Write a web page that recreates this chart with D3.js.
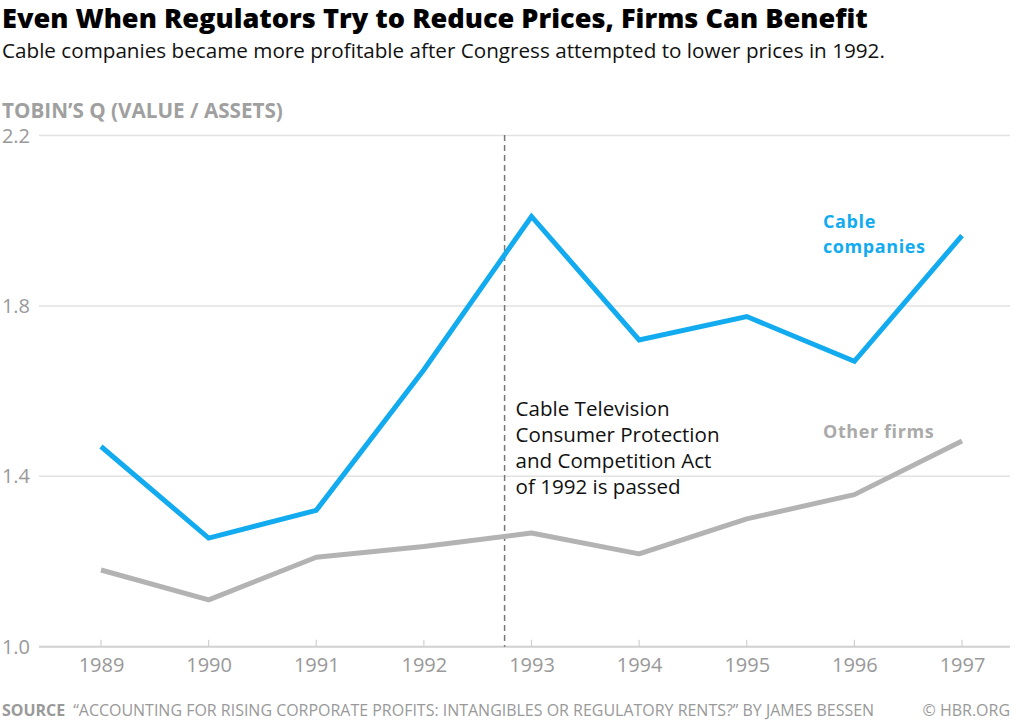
<!DOCTYPE html>
<html><head><meta charset="utf-8">
<script src="https://cdn.jsdelivr.net/npm/d3@7"></script>
<style>body{margin:0;background:#fff;} svg{display:block;}</style>
</head><body>
<script>
const years = [1989,1990,1991,1992,1993,1994,1995,1996,1997];
const cable = [1.47,1.255,1.32,1.65,2.01,1.72,1.775,1.67,1.965];
const other = [1.18,1.11,1.21,1.235,1.267,1.218,1.30,1.357,1.483];
const yTicks = [1.0,1.4,1.8,2.2];
const actYear = 1992.75;
const actLines = ["Cable Television","Consumer Protection","and Competition Act","of 1992 is passed"];
const cableLabel = ["Cable","companies"];

const W=1024,H=722;
const svg=d3.select("body").append("svg").attr("width",W).attr("height",H);
const x=d3.scaleLinear().domain([1989,1997]).range([101,962]);
const y=d3.scaleLinear().domain([1.0,2.2]).range([646.7,135.5]);
const font="'Open Sans', sans-serif";

function fit(sel,target){const n=sel.node();const w=n.getComputedTextLength();const fs=+sel.attr("font-size");sel.attr("font-size",(fs*target/w).toFixed(2));}

const t=svg.append("text").attr("x",2).attr("y",28).attr("font-family",font).attr("font-weight",800)
 .attr("font-size",25).attr("fill","#000").text("Even When Regulators Try to Reduce Prices, Firms Can Benefit");
fit(t,866);
const st=svg.append("text").attr("x",2).attr("y",58).attr("font-family",font)
 .attr("font-size",19).attr("fill","#111").text("Cable companies became more profitable after Congress attempted to lower prices in 1992.");
fit(st,883);
const yl=svg.append("text").attr("x",2).attr("y",118).attr("font-family",font).attr("font-weight",700)
 .attr("font-size",18).attr("fill","#a0a0a0").text("TOBIN’S Q (VALUE / ASSETS)");
fit(yl,281);

svg.append("g").selectAll("line").data(yTicks.slice(1)).join("line")
 .attr("x1",39).attr("x2",1010).attr("y1",d=>y(d)).attr("y2",d=>y(d))
 .attr("stroke","#e2e2e2").attr("stroke-width",1.5);
svg.append("g").selectAll("text").data(yTicks).join("text")
 .attr("x",30).attr("y",d=>y(d)+7).attr("text-anchor","end").attr("font-family",font)
 .attr("font-size",20).attr("fill","#999").text(d=>d.toFixed(1));

const xAxis=d3.axisBottom(x).tickValues(years).tickFormat(d3.format("d")).tickSize(0);
const gx=svg.append("g").attr("transform",`translate(0,${y(1.0)})`).call(xAxis);
gx.select(".domain").remove();
gx.selectAll("text").attr("font-family",font).attr("font-size",20).attr("fill","#999").attr("dy","1.1em");
svg.append("line").attr("x1",39).attr("x2",1010).attr("y1",y(1.0)).attr("y2",y(1.0)).attr("stroke","#d0d0d0").attr("stroke-width",2);
svg.append("g").selectAll("line").data(years).join("line")
 .attr("x1",d=>x(d)).attr("x2",d=>x(d)).attr("y1",y(1.0)-7).attr("y2",y(1.0)).attr("stroke","#d0d0d0").attr("stroke-width",1.2);

svg.append("line").attr("x1",x(actYear)).attr("x2",x(actYear)).attr("y1",135).attr("y2",y(1.0))
 .attr("stroke","#777").attr("stroke-width",1.5).attr("stroke-dasharray","6,4");

const line=d3.line().x((d,i)=>x(years[i])).y(d=>y(d));
svg.append("path").datum(other).attr("d",line).attr("fill","none").attr("stroke","#b3b3b3").attr("stroke-width",5).attr("stroke-linejoin","round");
svg.append("path").datum(cable).attr("d",line).attr("fill","none").attr("stroke","#13abef").attr("stroke-width",5).attr("stroke-linejoin","miter");

const ann=svg.append("g").selectAll("text").data(actLines).join("text")
 .attr("x",x(actYear)+11).attr("y",(d,i)=>416+i*26).attr("font-family",font)
 .attr("font-size",19).attr("fill","#111").text(d=>d);
fit(d3.select(ann.nodes()[1]),204);
ann.attr("font-size",d3.select(ann.nodes()[1]).attr("font-size"));

svg.append("g").selectAll("text").data(cableLabel).join("text")
 .attr("x",823).attr("y",(d,i)=>228+i*25).attr("font-family",font).attr("font-weight",700)
 .attr("font-size",18).attr("letter-spacing",0.6).attr("fill","#13abef").text(d=>d);
const of=svg.append("text").attr("x",823).attr("y",438).attr("font-family",font).attr("font-weight",700)
 .attr("font-size",18).attr("letter-spacing",0.6).attr("fill","#aaa").text("Other firms");

const src=svg.append("text").attr("x",2).attr("y",716).attr("font-family",font).attr("font-size",14).attr("fill","#999");
src.append("tspan").attr("font-weight",700).text("SOURCE");
src.append("tspan").attr("dx",8).text("“ACCOUNTING FOR RISING CORPORATE PROFITS: INTANGIBLES OR REGULATORY RENTS?” BY JAMES BESSEN");
fit(src,864);
svg.append("text").attr("x",1010).attr("y",716).attr("text-anchor","end").attr("font-family",font).attr("font-size",src.attr("font-size")).attr("fill","#999").text("© HBR.ORG");
</script>
</body></html>
